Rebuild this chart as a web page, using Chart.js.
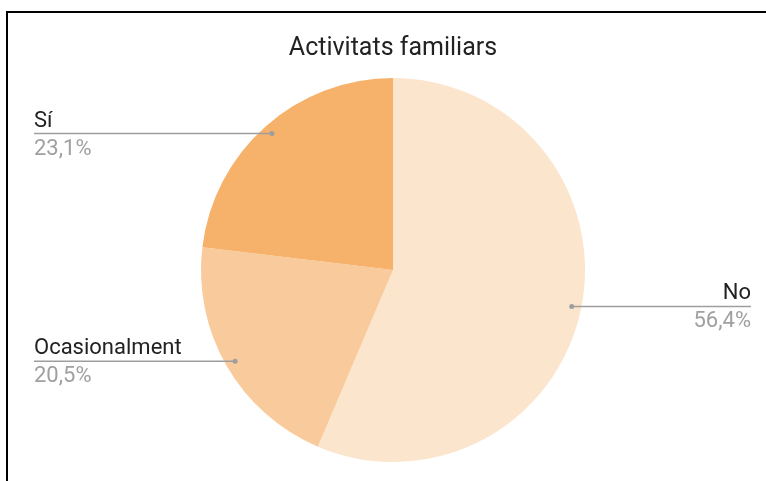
<!DOCTYPE html>
<html>
<head>
<meta charset="utf-8">
<script src="https://cdn.jsdelivr.net/npm/chart.js@4"></script>
<style>
  html, body { margin: 0; padding: 0; background: #fff; }
  #wrap { width: 766px; height: 481px; position: relative; }
</style>
</head>
<body>
<div id="wrap"><canvas id="pieChart" width="766" height="481"></canvas></div>
<script>
// chart data
const categories = ['No', 'Ocasionalment', 'Sí'];
const values = [56.4, 20.5, 23.1];
const sliceColors = ['#fce5cd', '#f9cb9c', '#f6b26b'];
const chartTitle = 'Activitats familiars';

const FONT = 'Roboto, "Noto Sans", sans-serif';

// frame lines (left + top) like the screenshot
const framePlugin = {
  id: 'frame',
  beforeDraw(chart) {
    const ctx = chart.ctx;
    ctx.save();
    ctx.strokeStyle = '#000';
    ctx.lineWidth = 2;
    ctx.beginPath();
    ctx.moveTo(7, 481);
    ctx.lineTo(7, 12);
    ctx.lineTo(766, 12);
    ctx.stroke();
    ctx.restore();
  }
};

// outside labels with leader lines
const labelPlugin = {
  id: 'sideLabels',
  afterDraw(chart) {
    const ctx = chart.ctx;
    const meta = chart.getDatasetMeta(0);
    const total = values.reduce((a, b) => a + b, 0);
    ctx.save();
    meta.data.forEach((arc, i) => {
      const p = arc.getProps(['x', 'y', 'startAngle', 'endAngle', 'outerRadius'], true);
      const mid = (p.startAngle + p.endAngle) / 2;
      const r = p.outerRadius * 0.95;
      const dx = p.x + Math.cos(mid) * r;
      const dy = p.y + Math.sin(mid) * r;
      const right = Math.cos(mid) > 0;
      const endX = right ? 751 : 34;

      ctx.strokeStyle = '#9e9e9e';
      ctx.lineWidth = 1.5;
      ctx.beginPath();
      ctx.moveTo(dx, dy);
      ctx.lineTo(endX, dy);
      ctx.stroke();

      ctx.fillStyle = '#9e9e9e';
      ctx.beginPath();
      ctx.arc(dx, dy, 2.5, 0, Math.PI * 2);
      ctx.fill();

      ctx.textAlign = right ? 'right' : 'left';
      ctx.textBaseline = 'alphabetic';
      ctx.font = '22px ' + FONT;
      ctx.fillStyle = '#222';
      ctx.fillText(categories[i], endX, dy - 7);
      const pct = (values[i] / total * 100).toFixed(1).replace('.', ',') + '%';
      ctx.fillStyle = '#a0a0a0';
      ctx.fillText(pct, endX, dy + 21);
    });
    ctx.restore();
  }
};

new Chart(document.getElementById('pieChart'), {
  type: 'pie',
  data: {
    labels: categories,
    datasets: [{
      data: values,
      backgroundColor: sliceColors,
      borderWidth: 0
    }]
  },
  options: {
    responsive: false,
    animation: false,
    layout: { padding: { top: 0, bottom: 19, left: 20, right: 0 } },
    plugins: {
      legend: { display: false },
      tooltip: { enabled: false },
      title: {
        display: true,
        text: chartTitle,
        color: '#222',
        font: { family: FONT, size: 25, weight: 'normal' },
        padding: { top: 34, bottom: 14 }
      }
    }
  },
  plugins: [framePlugin, labelPlugin]
});
</script>
</body>
</html>
